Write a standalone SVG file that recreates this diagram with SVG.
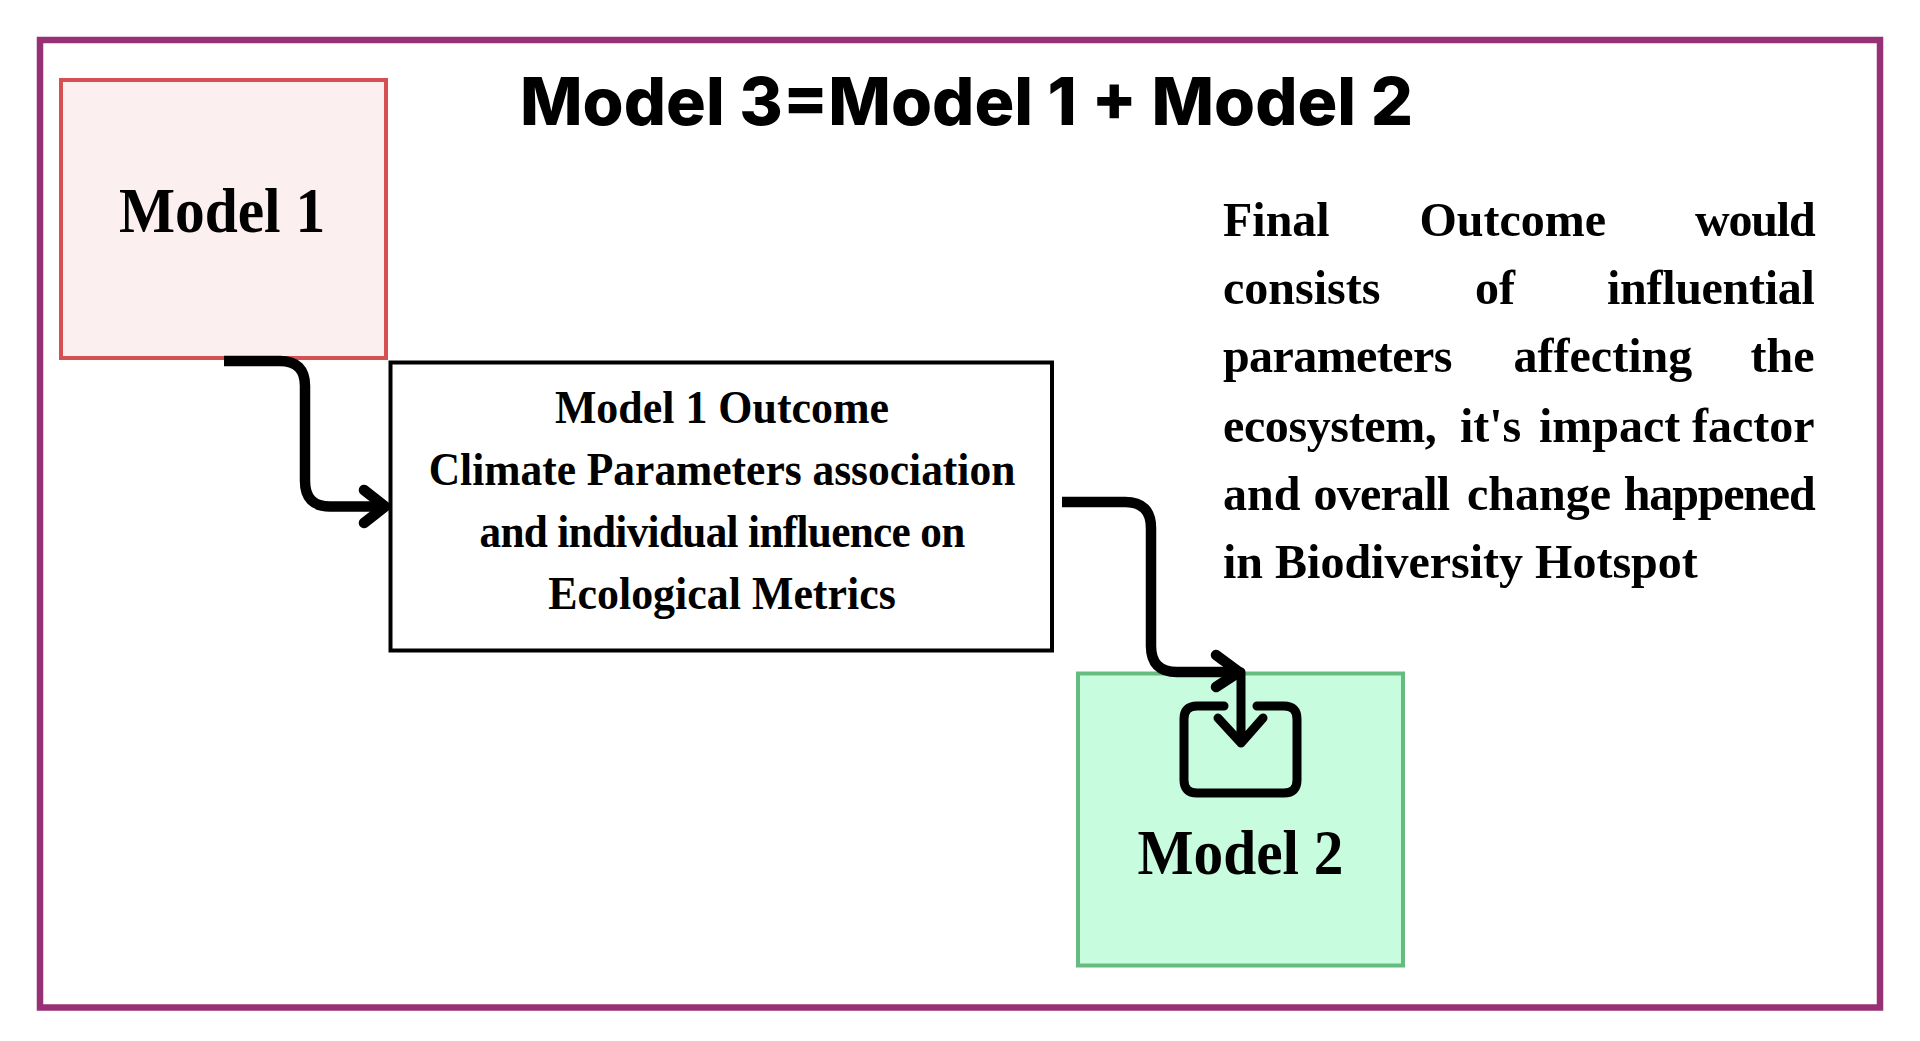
<svg xmlns="http://www.w3.org/2000/svg" width="1920" height="1041" viewBox="0 0 1920 1041">
<style>
.s{font-family:"Liberation Serif",serif;font-weight:700;fill:#000}
.m{font-size:63px;text-anchor:middle}
.o{font-size:46px;text-anchor:middle}
.f{font-size:49px}
.e{text-anchor:end}
.t{font-family:"Inter","Liberation Sans",sans-serif;font-weight:800;font-size:66px;fill:#000}
.c{fill:none;stroke:#000;stroke-width:10.5;stroke-linejoin:round}
.h{fill:none;stroke:#000;stroke-width:10.5;stroke-linecap:round;stroke-linejoin:round}
.i{fill:none;stroke:#000;stroke-width:9;stroke-linecap:round;stroke-linejoin:round}
</style>
<rect width="1920" height="1041" fill="#fff"/>
<g id="frame"><rect x="40" y="40" width="1840" height="967.5" fill="#fff" stroke="#983075" stroke-width="6.5"/></g>
<g id="title"><text class="t" x="520" y="125" textLength="893" lengthAdjust="spacingAndGlyphs">Model 3=Model 1 + Model 2</text></g>
<g id="model1"><rect x="61" y="80" width="325" height="278" fill="#fbeff0" stroke="#d64f52" stroke-width="4"/><text class="s m" transform="translate(222,232) scale(.943,1)">Model 1</text></g>
<g id="outcome"><rect x="390.5" y="362.5" width="661.5" height="288" fill="#fff" stroke="#000" stroke-width="4"/>
<text class="s o" transform="translate(722,422.5) scale(.955,1)">Model 1 Outcome</text>
<text class="s o" transform="translate(722,485) scale(.945,1)">Climate Parameters association</text>
<text class="s o" transform="translate(722,547) scale(.94,1)" letter-spacing="-.72">and individual influence on</text>
<text class="s o" transform="translate(722,608.5) scale(.955,1)">Ecological Metrics</text></g>
<g id="model2"><rect x="1078" y="673.5" width="325" height="292" fill="#c8fcdf" stroke="#66bb7f" stroke-width="4"/><text class="s m" transform="translate(1240.5,874) scale(.942,1)">Model 2</text>
<g id="inbox-icon"><path class="i" d="M1224 706H1197Q1184 706 1184 719V780Q1184 793 1197 793H1284Q1297 793 1297 780V719Q1297 706 1284 706H1257"/><path class="i" d="M1241 672V743M1218 718L1241 743L1263 718"/></g></g>
<g id="final-text">
<text class="s f" transform="translate(1223,235.7) scale(.98,1)"><tspan x="0">Final</tspan><tspan x="200.5">Outcome</tspan><tspan class="e" x="603.6" letter-spacing="-1.2">would</tspan></text>
<text class="s f" transform="translate(1223,304) scale(.98,1)"><tspan x="0">consists</tspan><tspan x="257.1">of</tspan><tspan class="e" x="603.6" letter-spacing="-.3">influential</tspan></text>
<text class="s f" transform="translate(1223,372.3) scale(.98,1)"><tspan x="0" letter-spacing="-.6">parameters</tspan><tspan x="296.5">affecting</tspan><tspan class="e" x="603.6">the</tspan></text>
<text class="s f" transform="translate(1223,441.5) scale(.98,1)"><tspan x="0" letter-spacing="-.4">ecosystem,</tspan><tspan x="241.8">it's</tspan><tspan x="322.4">impact</tspan><tspan class="e" x="603.6">factor</tspan></text>
<text class="s f" transform="translate(1223,510) scale(.98,1)"><tspan x="0">and</tspan><tspan x="92.3" letter-spacing="-.8">overall</tspan><tspan x="249">change</tspan><tspan class="e" x="603.6" letter-spacing="-1.2">happened</tspan></text>
<text class="s f" transform="translate(1223,578.3) scale(.98,1)">in Biodiversity Hotspot</text></g>
<g id="connectors">
<path class="c" d="M224 361H280Q305 361 305 386V481Q305 506.5 330 506.5H384"/><path class="h" d="M364 490L385 506.5L364 523"/>
<path class="c" d="M1062 502H1125Q1151 502 1151 528V646Q1151 672 1177 672H1238"/><path class="h" d="M1216 655L1239 672L1216 687"/>
</g>
</svg>
